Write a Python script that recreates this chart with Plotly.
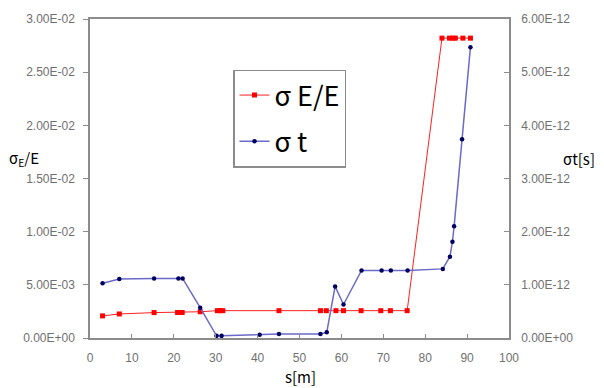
import plotly.graph_objects as go

# sigma E/E (left axis)
s_e = [3.0, 7.0, 15.3, 20.9, 21.5, 22.0, 26.3, 30.4, 31.0, 31.7, 45.1, 55.0, 56.4, 58.7, 60.5,
       64.7, 69.4, 71.7, 75.7, 84.0, 85.8, 86.6, 87.2, 89.0, 90.8]
sig_e = [0.00208, 0.00226, 0.00239, 0.00240, 0.00240, 0.00240, 0.00247, 0.00257, 0.00257, 0.00257,
         0.00257, 0.00257, 0.00257, 0.00257, 0.00257, 0.00257, 0.00257, 0.00257, 0.00257,
         0.0282, 0.0282, 0.0282, 0.0282, 0.0282, 0.0282]

# sigma t (right axis)
s_t = [3.0, 7.0, 15.3, 21.1, 22.1, 26.3, 30.2, 31.4, 40.5, 45.1, 55.0, 56.5, 58.5, 60.5,
       64.8, 69.6, 71.8, 75.8, 84.2, 85.9, 86.5, 86.9, 88.8, 90.8]
sig_t = [1.03e-12, 1.11e-12, 1.12e-12, 1.12e-12, 1.12e-12, 0.57e-12, 0.04e-12, 0.04e-12, 0.06e-12,
         0.075e-12, 0.075e-12, 0.106e-12, 0.97e-12, 0.63e-12, 1.27e-12, 1.27e-12, 1.27e-12,
         1.27e-12, 1.30e-12, 1.53e-12, 1.81e-12, 2.10e-12, 3.74e-12, 5.47e-12]

x_ticks = [0, 10, 20, 30, 40, 50, 60, 70, 80, 90, 100]
yl_vals = [0, 0.005, 0.01, 0.015, 0.02, 0.025, 0.03]
yl_text = ["0.00E+00", "5.00E-03", "1.00E-02", "1.50E-02", "2.00E-02", "2.50E-02", "3.00E-02"]
yr_vals = [0, 1e-12, 2e-12, 3e-12, 4e-12, 5e-12, 6e-12]
yr_text = ["0.00E+00", "1.00E-12", "2.00E-12", "3.00E-12", "4.00E-12", "5.00E-12", "6.00E-12"]

tickfont = dict(family="Liberation Sans, Arial", size=12, color="#707070")
axcol = "#8c8c8c"
L, R, T, B = 90, 95, 16, 50
W, H = 604, 388
pw, ph = W - L - R, H - T - B


def px_x(x):
    return (x - L) / pw


def px_y(y):
    return (H - B - y) / ph


fig = go.Figure()
fig.add_trace(go.Scatter(
    x=s_e, y=sig_e, name="σ E/E", mode="lines+markers", yaxis="y", legendgroup="e",
    line=dict(color="#ff2020", width=1),
    marker=dict(symbol="square", size=5, color="#ff0000"),
))
fig.add_trace(go.Scatter(
    x=s_t, y=sig_t, name="σ t", mode="lines+markers", yaxis="y2", legendgroup="t",
    line=dict(color="#6a6ac8", width=1.5),
    marker=dict(symbol="circle", size=4.5, color="#000060"),
))

title_font = dict(family="Noto Sans CJK KR", size=15, color="black")

fig.update_layout(
    width=W, height=H,
    margin=dict(l=L, r=R, t=T, b=B),
    paper_bgcolor="white", plot_bgcolor="white",
    showlegend=True,
    legend=dict(
        x=px_x(233), y=px_y(67), xanchor="left", yanchor="top",
        bordercolor="#8c8c8c", borderwidth=1.5, bgcolor="white",
        font=dict(family="Noto Sans CJK KR", size=27, color="black"),
        itemwidth=30, tracegroupgap=8,
    ),
    xaxis=dict(
        range=[0, 100], tickvals=x_ticks, ticktext=[str(v) for v in x_ticks],
        showgrid=False, zeroline=False, showline=True, linecolor=axcol, linewidth=1.5,
        mirror=True, ticks="inside", ticklen=4, tickcolor=axcol,
        tickfont=tickfont, ticklabelstandoff=8,
    ),
    yaxis=dict(
        range=[0, 0.03], tickvals=yl_vals, ticktext=yl_text,
        showgrid=False, zeroline=False, showline=True, linecolor=axcol, linewidth=1.5,
        ticks="outside", ticklen=5, tickcolor=axcol, tickfont=tickfont, ticklabelstandoff=6,
    ),
    yaxis2=dict(
        range=[0, 6e-12], tickvals=yr_vals, ticktext=yr_text, overlaying="y", side="right",
        showgrid=False, zeroline=False, showline=True, linecolor=axcol, linewidth=1.5,
        ticks="inside", ticklen=5, tickcolor=axcol, tickfont=tickfont, ticklabelstandoff=8,
    ),
    annotations=[
        dict(text="s[m]", x=px_x(300), y=px_y(377), xref="paper", yref="paper", showarrow=False,
             xanchor="center", yanchor="middle", font=title_font),
        dict(text="σ<sub>E</sub>/E", x=px_x(7), y=px_y(157), xref="paper", yref="paper",
             showarrow=False, xanchor="left", yanchor="middle", font=title_font),
        dict(text="σt[s]", x=px_x(597), y=px_y(157), xref="paper", yref="paper",
             showarrow=False, xanchor="right", yanchor="middle", font=title_font),
    ],
)

fig.write_html("out.html")
